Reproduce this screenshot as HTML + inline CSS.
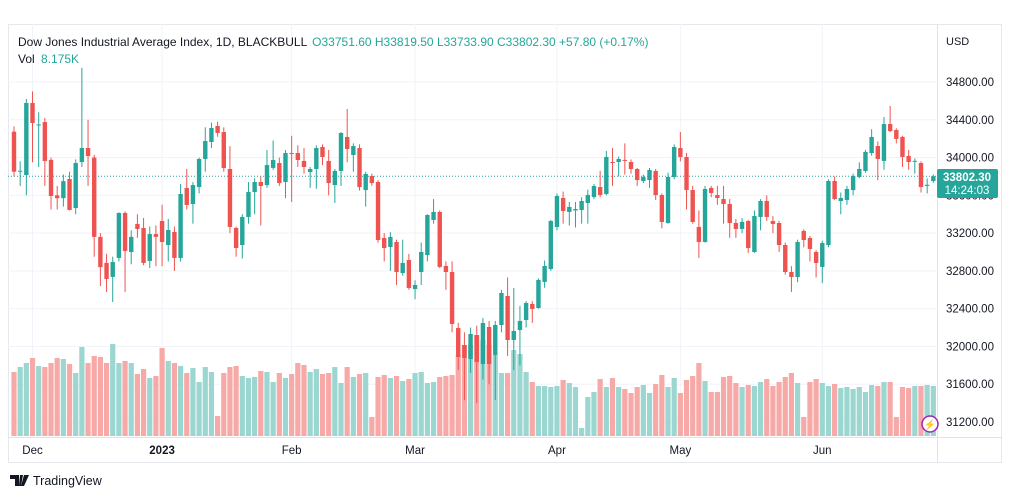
<!DOCTYPE html>
<html><head><meta charset="utf-8">
<style>
body{margin:0;width:1012px;height:498px;background:#fff;overflow:hidden;font-family:"Liberation Sans",sans-serif;}
svg{position:absolute;left:0;top:0}
text{font-family:"Liberation Sans",sans-serif}
</style></head>
<body>
<svg id="chart" width="1012" height="498">
<rect x="8.5" y="24.5" width="993" height="438" fill="#fff" stroke="#e6e8ee"/>
<g id="grid"></g>
<g id="vol"></g>
<g id="candles"></g>
<line x1="937.5" y1="24" x2="937.5" y2="462" stroke="#e0e3eb"/>
<line x1="8" y1="437.5" x2="1002" y2="437.5" stroke="#e0e3eb"/>
<g id="yaxis"></g>
<g id="xaxis"></g>
<text x="946" y="45" font-size="11" fill="#131722">USD</text>
<text x="18" y="46" font-size="12" fill="#131722">Dow Jones Industrial Average Index, 1D, BLACKBULL <tspan fill="#26a69a" dx="2">O33751.60  H33819.50  L33733.90  C33802.30  +57.80 (+0.17%)</tspan></text>
<text x="18" y="63" font-size="12" fill="#131722">Vol <tspan fill="#26a69a" dx="3">8.175K</tspan></text>
<g>
<rect x="937" y="169" width="61" height="29" rx="2" fill="#26a69a"/>
<text x="967" y="181" font-size="11.5" font-weight="bold" fill="#fff" text-anchor="middle">33802.30</text>
<text x="967" y="194" font-size="11.5" fill="#fff" text-anchor="middle">14:24:03</text>
</g>
<g><circle cx="930" cy="424" r="8" fill="#fff" stroke="#9c27b0" stroke-width="1.5"/><text x="930" y="428" font-size="10" fill="#9c27b0" text-anchor="middle">⚡</text></g>
<g><path d="M10 475h9v11h-4v-7h-5z M20 475h3l-2 11h-2z M24 475h5l-5 11h-3z" fill="#131722"/><text x="33" y="485" font-size="12.5" fill="#131722">TradingView</text></g>
</svg>
<script>
const opens=[34274,33850,33815,34578,34345,34376,33975,33600,33570,33773,33466,33953,34101,34000,33160,32884,32736,32937,33413,33000,33297,33254,32905,33190,33328,33074,33212,32937,33678,33508,33688,33985,34165,34334,34270,33879,33254,33074,33371,33635,33741,33709,33890,33942,33741,34048,34048,33964,33847,33879,34112,33964,33709,33858,34218,34027,34101,33656,33805,33741,33148,33053,33106,32777,32915,32608,32788,32968,33339,33424,32852,32788,32195,32015,31867,32121,31814,32206,31910,32227,32534,32068,32174,32280,32450,32407,32683,32820,33265,33572,33424,33440,33445,33519,33582,33688,33614,33953,33953,33975,33953,33879,33752,33762,33858,33603,33307,33794,34101,34006,33656,33265,33106,33678,33603,33561,33508,33307,33244,33328,33000,33371,33540,33328,33307,33074,32788,32735,33223,33148,33000,32842,33074,33752,33540,33551,33656,33794,33858,34048,34122,33964,34355,34292,34218,34017,33955,33942,33700,33751];
const highs=[34330,33960,34620,34700,34480,34420,34000,33700,33820,33850,33980,34950,34400,34030,33200,32980,32950,33420,33430,33230,33400,33360,33270,33280,33500,33350,33270,33720,33880,33740,34000,34320,34370,34380,34320,34120,33270,33400,33740,33780,33800,34080,34180,34000,34080,34230,34130,34100,33900,34130,34140,34080,33880,34270,34514,34150,34140,33850,33830,33760,33200,33210,33130,33130,32980,32700,33100,33400,33560,33440,32900,32900,32250,32150,32200,32220,32300,32270,32270,32600,32730,32620,32430,32480,32480,32720,32910,33340,33620,33640,33530,33530,33580,33660,33720,33860,34070,34100,34010,34150,33980,33890,33820,33890,33880,33620,33840,34140,34270,34050,33700,33440,33700,33700,33700,33700,33560,33350,33360,33340,33440,33560,33600,33380,33330,33100,32850,33130,33240,33170,33020,33120,33770,33800,33630,33700,33830,33950,34080,34300,34170,34430,34546,34310,34230,34080,33990,33960,33780,33819];
const lows=[33800,33700,33600,33950,33900,33700,33450,33450,33480,33440,33400,33900,33700,32950,32640,32576,32470,32900,32576,32870,33150,32860,32830,32850,32850,32900,32800,32900,33450,33300,33620,33850,34100,34220,33850,33200,32950,32930,33300,33400,33280,33680,33870,33700,33570,33530,33900,33830,33680,33670,33920,33600,33520,33700,33950,33850,33650,33480,33700,33100,32900,32800,32650,32750,32600,32500,32650,32900,33300,32830,32600,32150,31750,31430,31720,31400,31650,31600,31433,32150,31900,31750,31800,32200,32250,32400,32620,32800,33230,33300,33280,33260,33300,33300,33560,33580,33600,33700,33800,33820,33830,33700,33730,33680,33550,33250,33300,33770,33960,33450,33300,32937,33100,33580,33500,33300,33150,33150,33200,32990,32990,33230,33330,33200,33000,32760,32576,32680,33050,32900,32730,32670,33050,33550,33400,33500,33600,33780,33840,34020,33760,33870,34270,34150,33900,33870,33830,33630,33620,33733];
const closes=[33850,33860,34578,34366,34350,33964,33593,33570,33750,33445,33942,34101,34016,33160,32840,32714,32894,33413,33011,33160,33244,32884,33190,33160,33106,33233,32937,33614,33498,33709,33985,34175,34313,34260,33890,33265,33042,33371,33635,33741,33699,33921,33974,33730,34048,34040,33974,33900,33879,34101,34006,33730,33858,34260,34090,34122,33688,33826,33730,33127,33042,33159,32788,32884,32619,32651,33000,33392,33424,32842,32788,32238,31888,31878,32132,31835,32248,31814,32227,32566,32068,32164,32270,32460,32397,32704,32852,33328,33593,33434,33477,33455,33540,33604,33699,33604,34006,33942,33985,33965,33879,33762,33794,33868,33603,33318,33794,34112,34006,33656,33318,33106,33667,33625,33572,33508,33307,33244,33318,33042,33381,33540,33371,33297,33074,32788,32735,33106,33127,33032,32884,33095,33752,33561,33572,33667,33805,33879,34060,34218,33985,34355,34281,34197,34006,33953,33965,33688,33712,33802];
const volumes=[6.4,6.9,7.3,7.8,7.0,6.9,7.3,7.8,7.7,7.2,6.3,8.9,7.3,8.0,7.9,7.3,9.2,7.3,7.5,7.3,6.2,6.7,5.8,6.0,8.8,7.5,7.3,7.0,6.3,6.8,5.4,6.9,6.4,2.0,6.3,6.9,7.0,6.0,5.8,5.9,6.5,6.4,5.4,6.3,5.8,6.2,7.3,7.1,6.4,6.7,6.2,6.3,6.9,5.3,6.9,5.9,6.2,6.3,1.9,5.9,6.1,5.8,6.0,5.5,5.7,6.3,6.4,5.3,5.4,5.9,6.0,6.1,8.1,9.1,9.1,10.1,9.6,9.1,8.1,6.3,6.3,8.6,8.2,6.4,5.4,5.0,5.0,4.9,5.0,5.6,5.3,4.9,0.8,3.9,4.4,5.7,4.9,5.8,4.9,4.7,4.3,4.9,5.1,4.3,5.2,6.1,4.9,5.8,4.3,5.6,6.0,7.3,5.5,4.4,4.4,5.9,6.0,5.3,4.9,5.1,5.0,5.4,5.7,5.0,5.4,5.9,6.3,5.3,1.9,5.4,5.7,5.3,5.0,5.2,4.8,4.9,4.7,4.9,4.4,5.1,5.0,5.4,5.4,1.9,4.9,4.8,5.0,5.0,5.1,5.0];
const priceTicks=[34800,34400,34000,33600,33200,32800,32400,32000,31600,31200];
const monthLabels=["Dec","2023","Feb","Mar","Apr","May","Jun"];
const monthIndex=[3,24,45,65,88,108,131];

const NS="http://www.w3.org/2000/svg";
const X0=14, STEP=6.17;
function xScale(i){return X0+i*STEP;}
function yScale(p){return 82+(34800-p)*0.094444;}
function volY(v){return 436-v*10;}
function mk(tag,attrs,parent){const e=document.createElementNS(NS,tag);for(const k in attrs)e.setAttribute(k,attrs[k]);parent.appendChild(e);return e;}
const grid=document.getElementById('grid'),yaxis=document.getElementById('yaxis'),xaxis=document.getElementById('xaxis');
priceTicks.forEach(p=>{
  const y=yScale(p);
  const l=mk('line',{x1:8,x2:937,y1:y,y2:y,stroke:'#f0f3fa'},grid);
  
  
  const t=mk('text',{x:946,y:y+4,'font-size':11.5,fill:'#131722'},yaxis);
  t.textContent=p.toFixed(2);
  
  
});
monthLabels.forEach((m,k)=>{
  const x=xScale(monthIndex[k]);
  const l=mk('line',{x1:x,x2:x,y1:24,y2:437,stroke:'#f0f3fa'},grid);
  
  
  const t=mk('text',{x:x,y:454,'font-size':11.5,fill:'#131722','text-anchor':'middle','font-weight':m==='2023'?'bold':'normal'},xaxis);
  t.textContent=m;
  
  
});
const vg=document.getElementById('vol'),cg=document.getElementById('candles');
volumes.forEach((v,i)=>{
  const up=closes[i]>=opens[i];
  const r=mk('rect',{x:xScale(i)-2.6,y:volY(v),width:5.2,height:436-volY(v),fill:up?'#9bd6d0':'#f7a9a7'},vg);
  
  
});
const lp=mk('line',{x1:8,x2:937,y1:yScale(closes[closes.length-1]),y2:yScale(closes[closes.length-1]),stroke:'#26a69a','stroke-dasharray':'1 2'},cg);


opens.forEach((o,i)=>{
  const c=closes[i],up=c>=o,col=up?'#26a69a':'#ef5350',x=xScale(i);
  const g=mk('g',{},cg);
  
  
  mk('line',{x1:x,x2:x,y1:yScale(highs[i]),y2:yScale(lows[i]),stroke:col,'stroke-width':1},g);
  const top=yScale(Math.max(o,c)),bot=yScale(Math.min(o,c));
  mk('rect',{x:x-2.2,y:top,width:4.4,height:Math.max(1,bot-top),fill:col},g);
});
</script>
</body></html>
